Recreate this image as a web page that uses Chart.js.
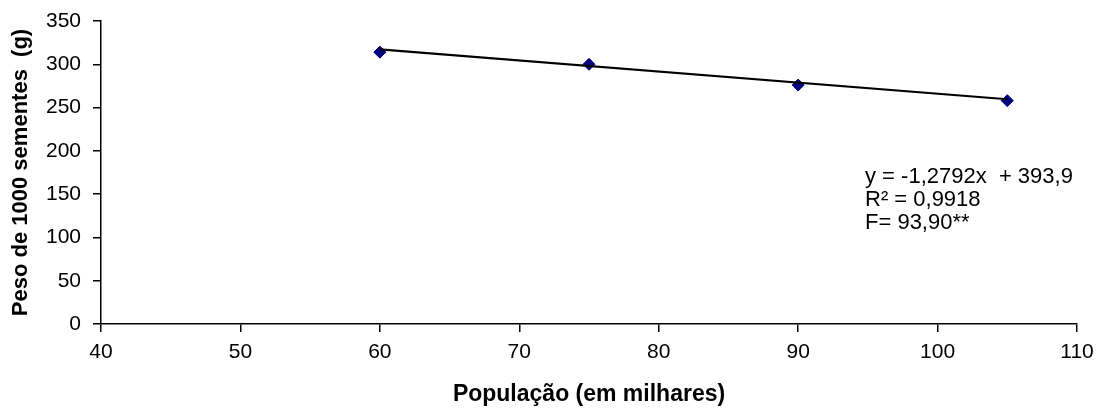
<!DOCTYPE html>
<html><head><meta charset="utf-8">
<script src="https://cdn.jsdelivr.net/npm/chart.js@4/dist/chart.umd.min.js"></script>
<style>html,body{margin:0;padding:0;background:#fff}#wrap{width:1096px;height:408px;position:relative}</style>
</head><body><div id="wrap"><canvas id="c" width="1096" height="408"></canvas></div>
<script>
const populacao = [60, 75, 90, 105];
const peso = [314, 300, 276, 258];
const trendCoef = [-1.2792, 393.9]; // slope, intercept (from the chart's equation)
const annotationLines = ["y = -1,2792x  + 393,9", "R\u00b2 = 0,9918", "F= 93,90**"];
const xTitle = "Popula\u00e7\u00e3o (em milhares)";
const yTitle = "Peso de 1000 sementes  (g)";

const trend = [populacao[0], populacao[populacao.length-1]].map(x => ({x, y: trendCoef[0]*x + trendCoef[1]}));
const pts = populacao.map((x,i)=>({x, y: peso[i]}));

const annot = {
  id:'annot',
  afterDraw(chart){
    const ctx = chart.ctx; ctx.save();
    ctx.font = '22px "Liberation Sans", Arial, sans-serif';
    ctx.fillStyle = '#000'; ctx.textBaseline='middle'; ctx.textAlign='left';
    annotationLines.forEach((t,i)=>ctx.fillText(t, 865, 177 + i*23));
    ctx.restore();
  }
};

new Chart(document.getElementById('c'), {
  type:'scatter',
  data:{datasets:[
    {data: trend, showLine:true, borderColor:'#000', borderWidth:2.2, pointRadius:0, order:0},
    {data: pts, backgroundColor:'#000080', borderColor:'#000080', pointStyle:'rectRot', pointRadius:6, order:1}
  ]},
  options:{
    responsive:false, animation:false,
    layout:{padding:{top:21,right:19,left:0,bottom:0}},
    plugins:{legend:{display:false}, tooltip:{enabled:false}},
    scales:{
      x:{type:'linear', min:40, max:110,
        ticks:{stepSize:10, color:'#000', font:{family:'"Liberation Sans", Arial', size:21}, padding:8, maxRotation:0},
        grid:{drawOnChartArea:false, tickLength:8, color:'#000', lineWidth:1.5},
        border:{color:'#000', width:1.5},
        title:{display:true, text:xTitle, color:'#000', font:{family:'"Liberation Sans", Arial', size:23, weight:'bold', lineHeight:1.2}, padding:{top:0,bottom:0}},
        afterFit(s){ s.height = 84; s.paddingRight = 0; s.paddingLeft = 0; }
      },
      y:{type:'linear', min:0, max:350,
        ticks:{stepSize:50, color:'#000', font:{family:'"Liberation Sans", Arial', size:21}, padding:12},
        grid:{drawOnChartArea:false, tickLength:8, color:'#000', lineWidth:1.5},
        border:{color:'#000', width:1.5},
        title:{display:true, text:yTitle, color:'#000', font:{family:'"Liberation Sans", Arial', size:22, weight:'bold', lineHeight:1.2}, padding:{top:8,bottom:0}},
        afterFit(s){ s.width = 101; s.paddingTop = 0; s.paddingBottom = 0; }
      }
    }
  },
  plugins:[annot]
});
</script></body></html>
